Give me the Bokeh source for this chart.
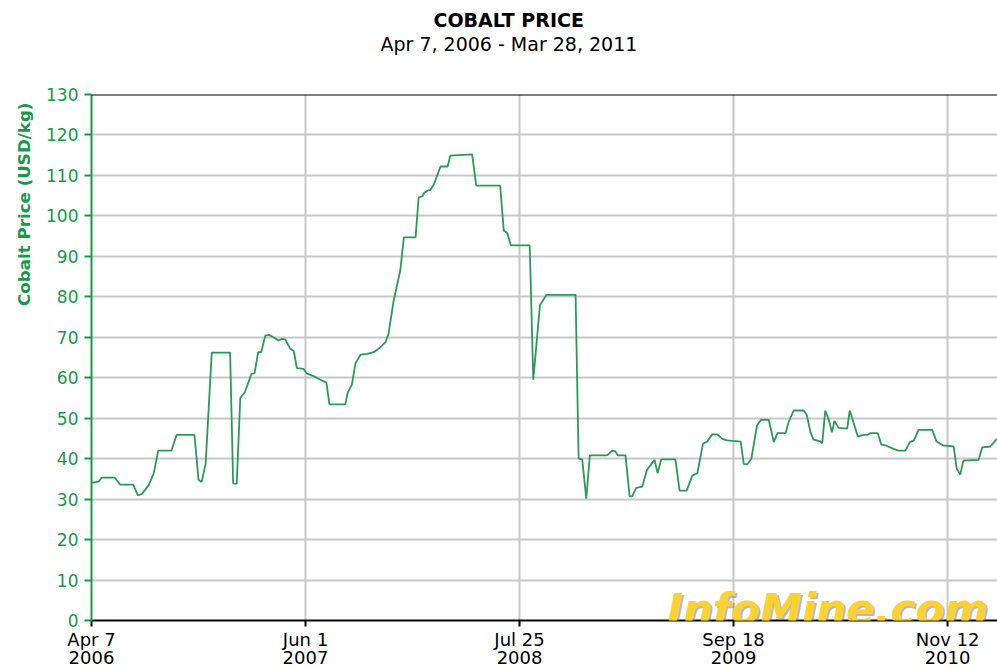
import pandas as pd
from bokeh.plotting import figure
from bokeh.models import FixedTicker, Title, Span, Label, Range1d
from bokeh.embed import file_html
from bokeh.resources import INLINE

# ---- data ----
dates = [
    "2006-04-07", "2006-04-21", "2006-04-27", "2006-05-23", "2006-06-02", "2006-06-28",
    "2006-07-07", "2006-07-15", "2006-07-28", "2006-08-07", "2006-08-16", "2006-09-11",
    "2006-09-21", "2006-10-26", "2006-11-03", "2006-11-09", "2006-11-17", "2006-11-29",
    "2007-01-04", "2007-01-10", "2007-01-17", "2007-01-24", "2007-02-02", "2007-02-15",
    "2007-02-21", "2007-02-28", "2007-03-06", "2007-03-14", "2007-03-21", "2007-03-30",
    "2007-04-09", "2007-04-16", "2007-04-22", "2007-05-02", "2007-05-09", "2007-05-15",
    "2007-05-28", "2007-06-04", "2007-06-17", "2007-06-30", "2007-07-12", "2007-07-18",
    "2007-08-18", "2007-08-23", "2007-08-31", "2007-09-07", "2007-09-17", "2007-09-30",
    "2007-10-13", "2007-10-23", "2007-11-05", "2007-11-11", "2007-11-21", "2007-12-04",
    "2007-12-11", "2008-01-03", "2008-01-09", "2008-01-16", "2008-01-20", "2008-01-27",
    "2008-02-01", "2008-02-08", "2008-02-21", "2008-03-06", "2008-03-11", "2008-04-23",
    "2008-05-01", "2008-06-17", "2008-06-24", "2008-07-01", "2008-07-08", "2008-08-14",
    "2008-08-21", "2008-09-03", "2008-09-16", "2008-11-12", "2008-11-18", "2008-11-25",
    "2008-12-03", "2008-12-10", "2009-01-13", "2009-01-23", "2009-01-29", "2009-02-03",
    "2009-02-18", "2009-02-26", "2009-03-03", "2009-03-11", "2009-03-23", "2009-04-01",
    "2009-04-11", "2009-04-16", "2009-04-22", "2009-04-29", "2009-05-27", "2009-06-04",
    "2009-06-18", "2009-06-29", "2009-07-09", "2009-07-20", "2009-07-28", "2009-08-07",
    "2009-08-17", "2009-08-27", "2009-09-05", "2009-10-02", "2009-10-08", "2009-10-15",
    "2009-10-23", "2009-11-03", "2009-11-11", "2009-11-26", "2009-12-06", "2009-12-13",
    "2009-12-29", "2010-01-04", "2010-01-14", "2010-02-03", "2010-02-09", "2010-02-16",
    "2010-02-22", "2010-03-07", "2010-03-11", "2010-03-17", "2010-03-24", "2010-03-30",
    "2010-04-04", "2010-04-12", "2010-04-29", "2010-05-04", "2010-05-12", "2010-05-20",
    "2010-05-31", "2010-06-08", "2010-06-14", "2010-06-28", "2010-07-05", "2010-07-13",
    "2010-07-29", "2010-08-08", "2010-08-21", "2010-08-30", "2010-09-07", "2010-09-16",
    "2010-10-13", "2010-10-21", "2010-10-29", "2010-11-03", "2010-11-24", "2010-11-30",
    "2010-12-07", "2010-12-13", "2011-01-12", "2011-01-19", "2011-02-04", "2011-02-17",
]
prices = [
    34.0, 34.3, 35.3, 35.3, 33.6, 33.6,
    30.9, 31.3, 33.4, 36.3, 42.0, 42.0,
    45.9, 45.9, 34.8, 34.2, 38.7, 66.2,
    66.2, 33.9, 33.8, 55.0, 56.4, 61.0,
    61.1, 66.3, 66.3, 70.4, 70.6, 70.0,
    69.2, 69.6, 69.5, 67.2, 66.6, 62.4,
    62.2, 61.0, 60.4, 59.5, 58.8, 53.4,
    53.4, 56.4, 58.3, 63.6, 65.7, 65.9,
    66.3, 67.2, 68.8, 70.9, 79.1, 86.5,
    94.7, 94.7, 104.6, 104.8, 105.7, 106.3,
    106.4, 107.8, 112.2, 112.2, 114.9, 115.2,
    107.5, 107.5, 96.4, 95.7, 92.7, 92.7,
    59.5, 77.9, 80.5, 80.5, 40.0, 39.8,
    30.1, 40.8, 40.8, 42.0, 41.8, 40.8,
    40.8, 30.7, 30.7, 32.8, 33.1, 37.2,
    38.9, 39.7, 36.4, 39.8, 39.8, 32.1,
    32.1, 35.8, 36.4, 43.7, 44.2, 46.0,
    46.0, 44.9, 44.5, 44.2, 38.7, 38.6,
    40.0, 48.2, 49.6, 49.6, 44.1, 46.3,
    46.3, 49.0, 51.9, 51.9, 50.7, 46.5,
    44.7, 44.3, 43.8, 51.9, 49.6, 46.5,
    49.3, 47.6, 47.4, 51.9, 48.6, 45.5,
    45.9, 45.9, 46.3, 46.3, 43.5, 43.3,
    42.4, 42.0, 42.0, 44.1, 44.5, 47.1,
    47.1, 44.3, 43.7, 43.3, 43.0, 37.5,
    36.1, 39.5, 39.7, 42.8, 43.0, 44.9,
]
x_tick_dates = ["2006-04-07", "2007-06-01", "2008-07-25", "2009-09-18", "2010-11-12"]
x_tick_labels = ["Apr 7\n2006", "Jun 1\n2007", "Jul 25\n2008", "Sep 18\n2009", "Nov 12\n2010"]
y_ticks = [0, 10, 20, 30, 40, 50, 60, 70, 80, 90, 100, 110, 120, 130]

title_text = "COBALT PRICE"
subtitle_text = "Apr 7, 2006 - Mar 28, 2011"
y_label = "Cobalt Price (USD/kg)"
watermark = "InfoMine.com"


def ms(d):
    return int(pd.Timestamp(d).value // 10**6)


GREEN = "#17994a"
LINE = "#2b9a57"
FONT = "DejaVu Sans"

x_start = pd.Timestamp("2006-04-07")
x_end = pd.Timestamp("2011-02-18")

p = figure(
    width=997, height=670,
    x_axis_type="datetime",
    x_range=Range1d(x_start, x_end),
    y_range=Range1d(0, 130),
    output_backend="svg",
    toolbar_location=None,
    title=None,
    min_border_left=91, min_border_right=0,
    min_border_top=94, min_border_bottom=50,
    background_fill_color="white",
    border_fill_color="white",
    outline_line_color=None,
)

# Grid
p.xgrid.grid_line_color = "#c8c8c8"
p.xgrid.grid_line_width = 2
p.ygrid.grid_line_color = "#c8c8c8"
p.ygrid.grid_line_width = 2

# x axis
tick_ms = [ms(d) for d in x_tick_dates]
p.xaxis.ticker = FixedTicker(ticks=tick_ms)
p.xaxis.major_label_overrides = {t: lab for t, lab in zip(tick_ms, x_tick_labels)}
p.xaxis.axis_line_color = "black"
p.xaxis.axis_line_width = 2
p.xaxis.major_tick_line_color = "black"
p.xaxis.major_tick_line_width = 2
p.xaxis.major_tick_out = 6
p.xaxis.major_tick_in = 0
p.xaxis.minor_tick_line_color = None
p.xaxis.major_label_text_font = FONT
p.xaxis.major_label_text_font_size = "18px"
p.xaxis.major_label_text_color = "black"
p.xaxis.major_label_standoff = 2
p.xaxis.major_label_text_line_height = 0.86

# y axis
p.yaxis.ticker = FixedTicker(ticks=y_ticks)
p.yaxis.axis_line_color = GREEN
p.yaxis.axis_line_width = 2
p.yaxis.major_tick_line_color = GREEN
p.yaxis.major_tick_line_width = 2
p.yaxis.major_tick_out = 7
p.yaxis.major_tick_in = 0
p.yaxis.minor_tick_line_color = None
p.yaxis.major_label_text_font = FONT
p.yaxis.major_label_text_font_size = "17px"
p.yaxis.major_label_text_color = GREEN
p.yaxis.major_label_standoff = 6

# top border
p.add_layout(Span(location=130, dimension="width", line_color="black", line_width=2))

# series
p.line(pd.to_datetime(dates), prices, line_color=LINE, line_width=1.8)

# watermark
wm_x = ms("2009-05-11")
p.add_layout(Label(x=wm_x, y=2.6, text=watermark, x_offset=2, y_offset=-2,
                   text_font="DejaVu Sans", text_font_style="bold italic",
                   text_font_size="42px", text_color="#8f8a78", text_alpha=0.6,
                   text_baseline="alphabetic"))
p.add_layout(Label(x=wm_x, y=2.6, text=watermark,
                   text_font="DejaVu Sans", text_font_style="bold italic",
                   text_font_size="42px", text_color="#fcd232",
                   text_baseline="alphabetic"))

# titles (stacked outward from the frame: spacer, subtitle, title)
p.add_layout(Title(text=" ", text_font_size="2px", standoff=35), "above")
p.add_layout(Title(text=subtitle_text, align="left", offset=289, vertical_align="middle",
                   text_font=FONT, text_font_size="19px", text_font_style="normal",
                   text_color="black", standoff=0), "above")
p.add_layout(Title(text=title_text, align="left", offset=342, vertical_align="middle",
                   text_font=FONT, text_font_size="19px", text_font_style="bold",
                   text_color="black", standoff=0), "above")

p.add_layout(Title(text=y_label, align="right", offset=8,
                   text_font=FONT, text_font_size="16.7px", text_font_style="bold",
                   text_color=GREEN, standoff=20), "left")

open("out.html", "w").write(file_html(p, INLINE))
